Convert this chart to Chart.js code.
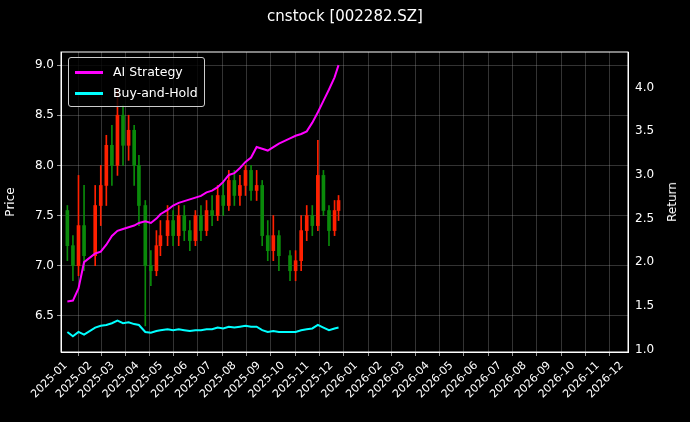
<!DOCTYPE html>
<html><head><meta charset="utf-8">
<script src="https://cdn.jsdelivr.net/npm/chart.js@4"></script>
<style>
html,body{margin:0;background:#000;}
#wrap{position:relative;width:690px;height:422px;}
#title{position:absolute;top:7px;left:0;width:690px;text-align:center;color:#fff;font:15px "DejaVu Sans";}
#legend{position:absolute;left:68px;top:57px;border:1px solid #ccc;border-radius:3px;background:rgba(0,0,0,0.8);padding:3px 6px;color:#fff;font:12.5px "DejaVu Sans";}
#legend div{height:21px;line-height:21px;}
#legend span{display:inline-block;width:28px;height:3px;vertical-align:middle;margin-right:10px;}
#rtitle{position:absolute;left:672px;top:202px;color:#fff;font:12px "DejaVu Sans";transform:translate(-50%,-50%) rotate(-90deg);}
</style></head><body>
<div id="wrap"><canvas id="c" width="690" height="422"></canvas>
<div id="title">cnstock [002282.SZ]</div>
<div id="legend"><div><span style="background:#ff00ff"></span>AI Strategy</div><div><span style="background:#00ffff"></span>Buy-and-Hold</div></div>
<div id="rtitle">Return</div>
</div>
<script>
const dates=["2025-01-03","2025-01-10","2025-01-17","2025-01-24","2025-02-07","2025-02-14","2025-02-21","2025-02-28","2025-03-07","2025-03-14","2025-03-21","2025-03-28","2025-04-03","2025-04-11","2025-04-18","2025-04-25","2025-04-30","2025-05-09","2025-05-16","2025-05-23","2025-05-30","2025-06-06","2025-06-13","2025-06-20","2025-06-27","2025-07-04","2025-07-11","2025-07-18","2025-07-25","2025-08-01","2025-08-08","2025-08-15","2025-08-22","2025-08-29","2025-09-05","2025-09-12","2025-09-19","2025-09-26","2025-10-10","2025-10-17","2025-10-24","2025-10-31","2025-11-07","2025-11-14","2025-11-21","2025-11-28","2025-12-05","2025-12-10"];
const opens=[7.55,7.2,7.0,7.4,7.1,7.6,7.8,8.2,8.0,8.5,8.2,8.35,8.0,7.6,7.0,6.95,7.2,7.3,7.45,7.3,7.5,7.35,7.25,7.5,7.35,7.55,7.5,7.7,7.6,7.85,7.7,7.8,7.95,7.75,7.8,7.3,7.15,7.3,7.1,6.95,7.05,7.35,7.5,7.4,7.9,7.55,7.35,7.55];
const closes=[7.2,7.0,7.4,7.1,7.6,7.8,8.2,8.0,8.5,8.2,8.35,8.0,7.6,7.0,6.95,7.2,7.3,7.45,7.3,7.5,7.35,7.25,7.5,7.35,7.55,7.5,7.7,7.6,7.85,7.7,7.8,7.95,7.75,7.8,7.3,7.15,7.3,7.1,6.95,7.05,7.35,7.5,7.4,7.9,7.55,7.35,7.55,7.65];
const highs=[7.6,7.3,7.9,7.8,7.8,8.0,8.3,8.4,8.75,8.6,8.5,8.4,8.1,7.65,7.15,7.35,7.45,7.6,7.55,7.6,7.6,7.45,7.55,7.6,7.65,7.7,7.8,7.85,7.95,7.95,7.9,8.0,8.0,7.95,7.85,7.45,7.5,7.35,7.15,7.15,7.5,7.6,7.6,8.25,7.95,7.6,7.65,7.7];
const lows=[7.05,6.85,6.9,6.95,7.0,7.4,7.6,7.8,7.9,8.0,8.05,7.8,7.4,6.4,6.8,6.9,7.1,7.2,7.2,7.2,7.25,7.15,7.2,7.25,7.3,7.4,7.45,7.5,7.55,7.6,7.6,7.7,7.65,7.65,7.2,7.05,7.05,6.95,6.85,6.85,6.95,7.25,7.3,7.35,7.5,7.2,7.3,7.45];
const aiStrategy=[1.55,1.56,1.7,2.0,2.1,2.12,2.2,2.3,2.36,2.38,2.4,2.42,2.45,2.47,2.45,2.5,2.55,2.6,2.65,2.68,2.7,2.72,2.74,2.76,2.8,2.82,2.86,2.92,3.0,3.02,3.08,3.15,3.2,3.32,3.3,3.28,3.32,3.36,3.42,3.45,3.47,3.5,3.6,3.72,3.85,3.98,4.12,4.26];
const buyHold=[1.2,1.15,1.2,1.17,1.25,1.27,1.28,1.3,1.33,1.3,1.31,1.29,1.28,1.2,1.19,1.21,1.22,1.23,1.22,1.23,1.22,1.21,1.22,1.22,1.23,1.23,1.25,1.24,1.26,1.25,1.26,1.27,1.26,1.26,1.22,1.2,1.21,1.2,1.2,1.2,1.22,1.23,1.24,1.28,1.25,1.22,1.24,1.25];
const monthLabels=["2025-01","2025-02","2025-03","2025-04","2025-05","2025-06","2025-07","2025-08","2025-09","2025-10","2025-11","2025-12","2026-01","2026-02","2026-03","2026-04","2026-05","2026-06","2026-07","2026-08","2026-09","2026-10","2026-11","2026-12"];
const priceTicks=[6.5,7.0,7.5,8.0,8.5,9.0];
const returnTicks=[1.0,1.5,2.0,2.5,3.0,3.5,4.0];

const base=Date.UTC(2025,0,1);
const day=s=>(Date.parse(s+"T00:00:00Z")-base)/86400000;
const xs=dates.map(day);
const monthX=monthLabels.map(m=>day(m+"-01"));
const col=(i)=>closes[i]>=opens[i]?'#ff2000':'#0a8a0a';
const grid={color:'rgba(170,170,170,0.5)',lineWidth:0.6,borderDash:[3,3],drawTicks:true,tickColor:'#fff',tickLength:4};

new Chart(document.getElementById('c'),{
 type:'bar',
 data:{datasets:[
  {type:'bar',yAxisID:'y',data:xs.map((x,i)=>({x,y:[lows[i],highs[i]]})),backgroundColor:xs.map((_,i)=>col(i)),barThickness:1,grouped:false,order:3},
  {type:'bar',yAxisID:'y',data:xs.map((x,i)=>({x,y:[opens[i],closes[i]]})),backgroundColor:xs.map((_,i)=>col(i)),barThickness:3,grouped:false,order:2},
  {type:'line',yAxisID:'y2',data:xs.map((x,i)=>({x,y:aiStrategy[i]})),borderColor:'#ff00ff',borderWidth:2,pointRadius:0,tension:0,order:1},
  {type:'line',yAxisID:'y2',data:xs.map((x,i)=>({x,y:buyHold[i]})),borderColor:'#00ffff',borderWidth:2,pointRadius:0,tension:0,order:0}
 ]},
 options:{responsive:false,animation:false,
  layout:{padding:{top:52,left:0,right:0,bottom:0}},
  plugins:{legend:{display:false},tooltip:{enabled:false}},
  scales:{
   x:{type:'linear',offset:false,min:-6,max:day("2026-12-01")+8,grid:grid,border:{color:'#fff'},
      afterBuildTicks:a=>{a.ticks=monthX.map(v=>({value:v}));},
      afterFit:a=>{a.height=70;},
      ticks:{color:'#fff',font:{family:'DejaVu Sans',size:11},maxRotation:45,minRotation:45,autoSkip:false,
        callback:(v)=>{const i=monthX.indexOf(v);return i>=0?monthLabels[i]:'';}}},
   y:{position:'left',min:6.14,max:9.13,grid:grid,border:{color:'#fff'},
      afterBuildTicks:a=>{a.ticks=priceTicks.map(v=>({value:v}));},
      afterFit:a=>{a.width=61;},
      title:{display:true,text:'Price',color:'#fff',font:{family:'DejaVu Sans',size:12}},
      ticks:{color:'#fff',font:{family:'DejaVu Sans',size:12},callback:v=>v.toFixed(1)}},
   y2:{position:'right',min:0.97,max:4.41,grid:{display:false,drawOnChartArea:false,drawTicks:true,tickColor:'#fff',tickLength:4},border:{color:'#fff'},
      afterBuildTicks:a=>{a.ticks=returnTicks.map(v=>({value:v}));},
      afterFit:a=>{a.width=62;},
      ticks:{color:'#fff',font:{family:'DejaVu Sans',size:12},callback:v=>v.toFixed(1)}}
  }
 },
 plugins:[{id:'bg',beforeDraw:c=>{const g=c.ctx;g.save();g.fillStyle='#000';g.fillRect(0,0,c.width,c.height);g.restore();},
  afterDraw:c=>{const a=c.chartArea,g=c.ctx;g.save();g.strokeStyle='#fff';g.lineWidth=1;g.strokeRect(a.left,a.top,a.right-a.left,a.bottom-a.top);g.restore();}}]
});
</script></body></html>
